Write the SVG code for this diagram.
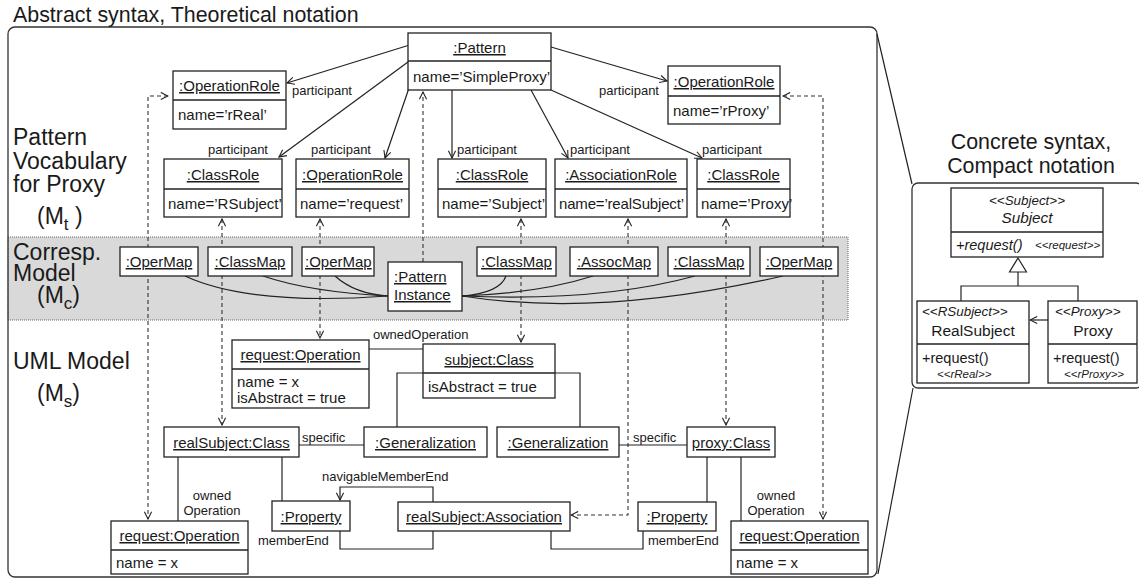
<svg xmlns="http://www.w3.org/2000/svg" width="1139" height="581" viewBox="0 0 1139 581">
  <style>
    text { font-family: "Liberation Sans", Arial, sans-serif; fill: #1a1a1a; }
    .box { fill: #fff; stroke: #222; stroke-width: 1.3; }
    .div { stroke: #222; stroke-width: 1.3; fill: none; }
    .t { font-size: 15px; }
    .c { text-anchor: middle; }
    .u { text-decoration: underline; }
    .s { font-size: 13px; }
    .big { font-size: 21.4px; }
    .lbl { font-size: 23px; }
    .it { font-style: italic; }
    .ln { fill: none; stroke: #222; stroke-width: 1.2; }
    .arr { fill: none; stroke: #222; stroke-width: 1.2; marker-end: url(#open); }
    .dash { fill: none; stroke: #333; stroke-width: 1.1; stroke-dasharray: 4 3; }
    .de { marker-end: url(#open); }
    .ds { marker-start: url(#open); }
  </style>
  <defs>
    <marker id="open" viewBox="0 0 10 10" refX="9" refY="5" markerWidth="9" markerHeight="9" markerUnits="userSpaceOnUse" orient="auto-start-reverse">
      <path d="M1,1 L9,5 L1,9" fill="none" stroke="#222" stroke-width="1.2" stroke-dasharray="none"/>
    </marker>
  </defs>

  <!-- outer frame of the theoretical notation -->
  <rect id="band" x="8" y="237" width="840" height="83" fill="#d9d9d9" stroke="#666" stroke-width="1" stroke-dasharray="1 1"/>
  <rect id="frame" x="8" y="27" width="869" height="550" rx="7" fill="none" stroke="#333" stroke-width="1.3"/>
  <text class="big" x="13" y="22">Abstract syntax, Theoretical notation</text>

  <!-- zoom lines to compact notation -->
  <g id="zoom-lines" class="ln">
    <path d="M877,34 L912,184"/>
    <path d="M913,388 L878,574"/>
  </g>

  <!-- layer labels -->
  <g id="layer-labels" class="lbl">
    <text x="13" y="145">Pattern</text>
    <text x="13" y="169">Vocabulary</text>
    <text x="13" y="192">for Proxy</text>
    <text x="37" y="224">(M<tspan font-size="17" dy="6">t</tspan><tspan dy="-6"> )</tspan></text>
    <text x="13" y="260">Corresp.</text>
    <text x="13" y="281">Model</text>
    <text x="37" y="303">(M<tspan font-size="17" dy="6">c</tspan><tspan dy="-6">)</tspan></text>
    <text x="13" y="369">UML Model</text>
    <text x="37" y="401">(M<tspan font-size="17" dy="6">s</tspan><tspan dy="-6">)</tspan></text>
  </g>

  <!-- connectors -->
  <g id="connectors">
    <!-- participant links -->
    <path class="arr" d="M408,45.5 L287,83"/>
    <path class="arr" d="M408,62 L279,157"/>
    <path class="arr" d="M409,88 L385,158"/>
    <path class="arr" d="M452,90 L452,158"/>
    <path class="arr" d="M531,90 L568,158"/>
    <path class="arr" d="M551,90 L702,158"/>
    <path class="arr" d="M551,47 L667,81"/>
    <g class="s">
      <text x="292" y="95">participant</text>
      <text x="599" y="95">participant</text>
      <text x="208" y="154">participant</text>
      <text x="311" y="154">participant</text>
      <text x="457" y="154">participant</text>
      <text x="570" y="154">participant</text>
      <text x="702" y="154">participant</text>
    </g>

    <!-- correspondence links -->
    <path class="dash de ds" d="M168,96 H148 V519"/>
    <path class="dash de ds" d="M222,219 V425"/>
    <path class="dash de ds" d="M320,219 V338"/>
    <path class="dash de ds" d="M521,219 V342"/>
    <path class="dash de ds" d="M628,219 V515 H571"/>
    <path class="dash de ds" d="M726,219 V425"/>
    <path class="dash de ds" d="M783,96 H823 V519"/>
    <path class="dash de" d="M423,262 V92"/>

    <!-- instance to map links -->
    <g class="ln">
      <path d="M185,276 Q250,306 388,296"/>
      <path d="M263,276 Q310,292 388,296"/>
      <path d="M335,276 Q355,294 388,296"/>
      <path d="M462,296 Q500,293 506,276"/>
      <path d="M462,296 Q540,293 593,276"/>
      <path d="M462,296 Q600,302 695,276"/>
      <path d="M462,296 Q600,318 783,276"/>
    </g>

    <!-- UML model links -->
    <g class="ln">
      <path d="M369,349 H423"/>
      <path d="M423,373 H397 V427"/>
      <path d="M555,373 H580 V427"/>
      <path d="M299,445 H364"/>
      <path d="M619,445 H687"/>
      <path d="M178,457 V521"/>
      <path d="M282,457 V501"/>
      <path d="M707,457 V502"/>
      <path d="M741,457 V521"/>
      <path d="M340,531 V549 H433 V531"/>
      <path d="M551,531 V549 H643 V531"/>
    </g>
    <path class="arr" d="M433,502 V487 H340 V500"/>
    <g class="s">
      <text x="373" y="339">ownedOperation</text>
      <text x="302" y="442">specific</text>
      <text x="633" y="442">specific</text>
      <text x="322" y="481">navigableMemberEnd</text>
      <text x="258" y="545">memberEnd</text>
      <text x="648" y="545">memberEnd</text>
      <text class="c" x="212" y="500">owned</text>
      <text class="c" x="212" y="515">Operation</text>
      <text class="c" x="776" y="500">owned</text>
      <text class="c" x="776" y="515">Operation</text>
    </g>
  </g>

  <!-- pattern vocabulary -->
  <g id="pattern">
    <rect class="box" x="408" y="33" width="143" height="57"/>
    <path class="div" d="M408,61 H551"/>
    <text class="t c u" x="479.5" y="53">:Pattern</text>
    <text class="t" x="413" y="82">name=’SimpleProxy’</text>
  </g>
  <g id="role-rreal">
    <rect class="box" x="173" y="71" width="113" height="58"/>
    <path class="div" d="M173,100 H286"/>
    <text class="t c u" x="229.5" y="91">:OperationRole</text>
    <text class="t" x="178" y="120">name=’rReal’</text>
  </g>
  <g id="role-rproxy">
    <rect class="box" x="668" y="66" width="112" height="58"/>
    <path class="div" d="M668,96 H780"/>
    <text class="t c u" x="724" y="87">:OperationRole</text>
    <text class="t" x="673" y="116">name=’rProxy’</text>
  </g>
  <g id="role-rsubject">
    <rect class="box" x="164" y="159" width="118" height="58"/>
    <path class="div" d="M164,189 H282"/>
    <text class="t c u" x="223" y="180">:ClassRole</text>
    <text class="t" x="168" y="209">name=’RSubject’</text>
  </g>
  <g id="role-request">
    <rect class="box" x="296" y="159" width="113" height="58"/>
    <path class="div" d="M296,189 H409"/>
    <text class="t c u" x="352.5" y="180">:OperationRole</text>
    <text class="t" x="300" y="209">name=’request’</text>
  </g>
  <g id="role-subject">
    <rect class="box" x="438" y="159" width="108" height="58"/>
    <path class="div" d="M438,189 H546"/>
    <text class="t c u" x="492" y="180">:ClassRole</text>
    <text class="t" x="442" y="209">name=’Subject’</text>
  </g>
  <g id="role-realsubject">
    <rect class="box" x="555" y="159" width="132" height="58"/>
    <path class="div" d="M555,189 H687"/>
    <text class="t c u" x="621" y="180">:AssociationRole</text>
    <text class="t" x="559" y="209" textLength="125">name=’realSubject’</text>
  </g>
  <g id="role-proxy">
    <rect class="box" x="697" y="159" width="93" height="58"/>
    <path class="div" d="M697,189 H790"/>
    <text class="t c u" x="743.5" y="180">:ClassRole</text>
    <text class="t" x="701" y="209">name=’Proxy’</text>
  </g>

  <!-- correspondence model -->
  <g id="map-oper1"><rect class="box" x="120" y="247" width="78" height="29"/><text class="t c u" x="159" y="267">:OperMap</text></g>
  <g id="map-class1"><rect class="box" x="208" y="247" width="84" height="29"/><text class="t c u" x="250" y="267">:ClassMap</text></g>
  <g id="map-oper2"><rect class="box" x="302" y="247" width="72" height="29"/><text class="t u" x="305" y="267">:OperMap</text></g>
  <g id="pattern-instance">
    <rect class="box" x="388" y="262" width="74" height="49"/>
    <text class="t u" x="394" y="282">:Pattern</text>
    <text class="t u" x="394" y="300">Instance</text>
  </g>
  <g id="map-class2"><rect class="box" x="477" y="247" width="79" height="29"/><text class="t c u" x="516.5" y="267">:ClassMap</text></g>
  <g id="map-assoc"><rect class="box" x="570" y="247" width="88" height="29"/><text class="t c u" x="614" y="267">:AssocMap</text></g>
  <g id="map-class3"><rect class="box" x="668" y="247" width="82" height="29"/><text class="t c u" x="709" y="267">:ClassMap</text></g>
  <g id="map-oper3"><rect class="box" x="760" y="247" width="78" height="29"/><text class="t c u" x="799" y="267">:OperMap</text></g>

  <!-- UML model -->
  <g id="op-abstract">
    <rect class="box" x="232" y="340" width="137" height="68"/>
    <path class="div" d="M232,369 H369"/>
    <text class="t c u" x="300.5" y="360">request:Operation</text>
    <text class="t" x="237" y="387">name = x</text>
    <text class="t" x="237" y="403">isAbstract = true</text>
  </g>
  <g id="subject-class">
    <rect class="box" x="423" y="344" width="132" height="54"/>
    <path class="div" d="M423,373 H555"/>
    <text class="t c u" x="489" y="365">subject:Class</text>
    <text class="t" x="428" y="392">isAbstract = true</text>
  </g>
  <g id="gen1"><rect class="box" x="364" y="427" width="123" height="30"/><text class="t c u" x="425.5" y="448">:Generalization</text></g>
  <g id="gen2"><rect class="box" x="497" y="427" width="122" height="30"/><text class="t c u" x="558" y="448">:Generalization</text></g>
  <g id="realsubject-class"><rect class="box" x="164" y="427" width="135" height="30"/><text class="t c u" x="231.5" y="448">realSubject:Class</text></g>
  <g id="proxy-class"><rect class="box" x="687" y="427" width="88" height="30"/><text class="t c u" x="731" y="448">proxy:Class</text></g>
  <g id="property1"><rect class="box" x="272" y="501" width="78" height="30"/><text class="t c u" x="311" y="522">:Property</text></g>
  <g id="association"><rect class="box" x="398" y="502" width="172" height="29"/><text class="t c u" x="484" y="522">realSubject:Association</text></g>
  <g id="property2"><rect class="box" x="638" y="502" width="78" height="29"/><text class="t c u" x="677" y="522">:Property</text></g>
  <g id="op-real">
    <rect class="box" x="111" y="521" width="137" height="53"/>
    <path class="div" d="M111,550 H248"/>
    <text class="t c u" x="179.5" y="541">request:Operation</text>
    <text class="t" x="116" y="568">name = x</text>
  </g>
  <g id="op-proxy">
    <rect class="box" x="731" y="521" width="137" height="53"/>
    <path class="div" d="M731,550 H868"/>
    <text class="t c u" x="799.5" y="541">request:Operation</text>
    <text class="t" x="736" y="568">name = x</text>
  </g>

  <!-- compact notation -->
  <g id="compact">
    <text class="big c" x="1031" y="149">Concrete syntax,</text>
    <text class="big c" x="1031" y="173">Compact notation</text>
    <rect x="912" y="183" width="230" height="205" rx="6" fill="none" stroke="#333" stroke-width="1.3"/>
  </g>
  <g id="c-subject">
    <rect class="box" x="951" y="188" width="152" height="69"/>
    <path class="div" d="M951,232 H1103"/>
    <text class="it c" x="1027" y="205" font-size="13.4">&lt;&lt;Subject&gt;&gt;</text>
    <text class="it c" x="1027" y="223" font-size="15.3">Subject</text>
    <text class="it" x="956" y="250" font-size="14.5">+request()</text>
    <text class="it" x="1035" y="249" font-size="11.5">&lt;&lt;request&gt;&gt;</text>
  </g>
  <g id="c-generalization" class="ln">
    <path d="M961,301 V286 H1078 V301"/>
    <path d="M1018,286 V272"/>
    <path d="M1018,258 L1026.5,272 H1009.5 Z" fill="#fff"/>
  </g>
  <g id="c-realsubject">
    <rect class="box" x="917" y="301" width="112" height="82"/>
    <path class="div" d="M917,344 H1029"/>
    <text class="it" x="922" y="316" font-size="13.4">&lt;&lt;RSubject&gt;&gt;</text>
    <text class="c" x="973" y="336" font-size="15.5">RealSubject</text>
    <text x="922" y="363" font-size="14.5">+request()</text>
    <text class="it" x="937" y="378" font-size="11.5">&lt;&lt;rReal&gt;&gt;</text>
  </g>
  <g id="c-proxy">
    <rect class="box" x="1048" y="301" width="89" height="82"/>
    <path class="div" d="M1048,344 H1137"/>
    <text class="it" x="1055" y="316" font-size="13.4">&lt;&lt;Proxy&gt;&gt;</text>
    <text class="c" x="1093" y="336" font-size="15.5">Proxy</text>
    <text x="1053" y="363" font-size="14.5">+request()</text>
    <text class="it" x="1064" y="378" font-size="11.5">&lt;&lt;rProxy&gt;&gt;</text>
  </g>
  <path class="arr" d="M1048,320 H1030"/>
</svg>
